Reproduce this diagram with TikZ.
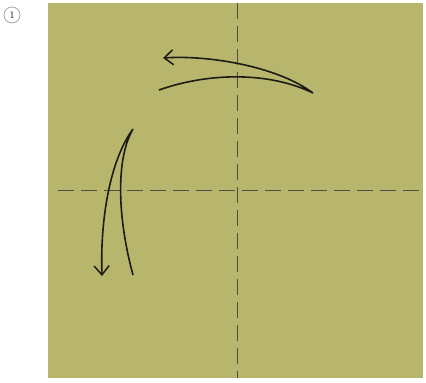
\documentclass[tikz,border=0pt]{standalone}
\usetikzlibrary{arrows.meta}
\definecolor{paper}{RGB}{184,182,108}
\definecolor{ink}{RGB}{28,28,22}
\definecolor{crease}{RGB}{80,80,66}
\tikzset{
  sheet/.style={fill=paper,draw=none},
  valley/.style={crease,line width=0.9pt,dash pattern=on 16pt off 7pt},
  foldarr/.style={ink,line width=1.6pt,-{Straight Barb[length=9pt,width=15pt,line width=1.5pt]}},
  stepnum/.style={circle,draw=gray!70,line width=0.8pt,minimum size=16pt,inner sep=0pt,font=\normalsize}
}
\begin{document}
\begin{tikzpicture}[x=1pt,y=-1pt]
  \useasboundingbox (0,0) rectangle (426,383);
  % Step number
  \node[stepnum] (num) at (12,15) {1};

  % Square sheet
  \fill[sheet] (48,3) rectangle (423,378);

  % Crease lines
  \coordinate (vtop) at (237,3);
  \coordinate (vbot) at (237,378);
  \coordinate (hlft) at (58,190);
  \coordinate (hrgt) at (423,190);
  \draw[valley] (vtop) -- (vbot);
  \draw[valley] (hlft) -- (hrgt);

  % Top fold arrow
  \coordinate (ta) at (159,90);
  \coordinate (tb) at (313,93);
  \coordinate (tc) at (163,58);
  \draw[foldarr] (ta) .. controls (210,72) and (270,72) .. (tb)
    .. controls (275,65) and (205,55) .. (tc);

  % Left fold arrow
  \coordinate (la) at (133,275);
  \coordinate (lb) at (133,129);
  \coordinate (lc) at (102,276);
  \draw[foldarr] (la) .. controls (118,220) and (115,160) .. (lb)
    .. controls (110,160) and (100,220) .. (lc);
\end{tikzpicture}
\end{document}
